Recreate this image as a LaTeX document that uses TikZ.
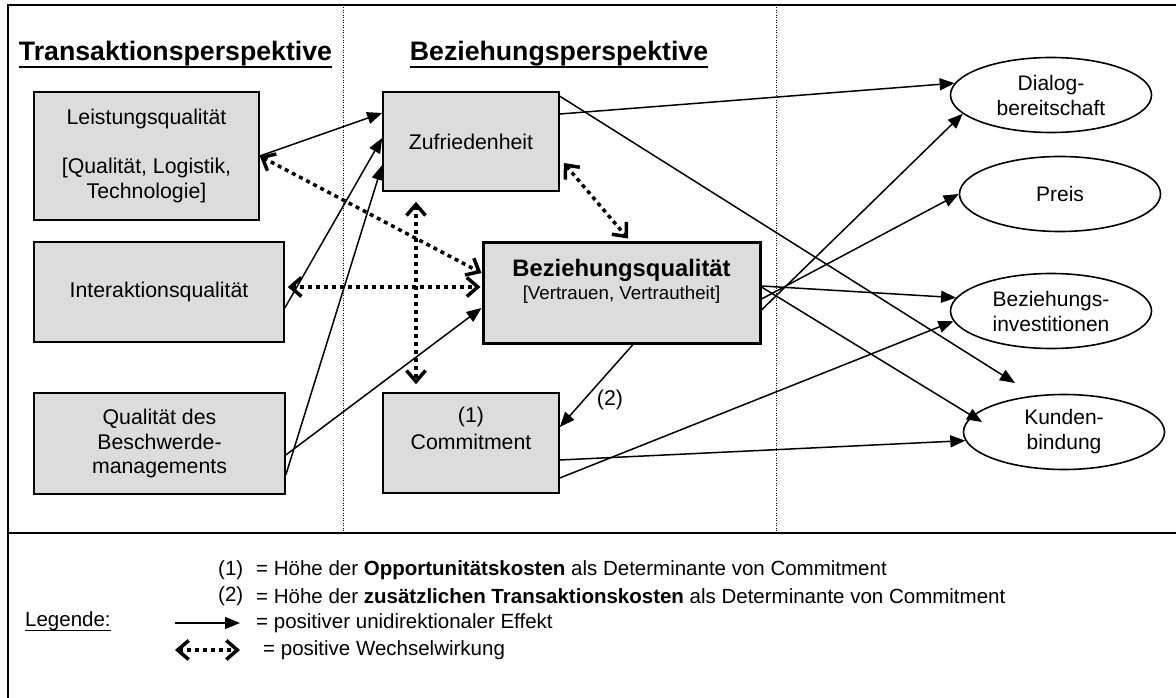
\documentclass[tikz,border=0pt]{standalone}
\usepackage{fontspec}
\setmainfont{Liberation Sans}
\usetikzlibrary{arrows.meta,shapes.geometric,calc}

\definecolor{boxgray}{RGB}{220,220,220}

\tikzset{
  box/.style={draw, line width=1.6pt, fill=boxgray, inner sep=0pt, align=center,
    font=\fontsize{21.3}{24.5}\selectfont},
  oval/.style={ellipse, draw, line width=1.6pt, inner sep=0pt, minimum width=201pt,
    minimum height=75pt, align=center, font=\fontsize{21}{25}\selectfont},
  effect/.style={line width=1.5pt, -{Triangle[length=15pt,width=12pt]}},
  mutual/.style={line width=3.5pt, dash pattern=on 4pt off 4pt,
    {Straight Barb[length=11pt,width=19pt]}-{Straight Barb[length=11pt,width=19pt]}},
  divider/.style={line width=1pt, dash pattern=on 1pt off 1.5pt},
  heading/.style={font=\fontsize{26.7}{30}\selectfont\bfseries, inner sep=0pt, anchor=base},
  txt/.style={inner sep=0pt, align=center, font=\fontsize{21.3}{24.5}\selectfont},
  legend/.style={inner sep=0pt, anchor=west, font=\fontsize{20.5}{24}\selectfont},
}

\begin{document}
\begin{tikzpicture}[x=1pt,y=-1pt]
\useasboundingbox (0,0) rectangle (1176,698);

% outer frame and legend separator
\draw[line width=2pt] (1180,5) -- (8,5) -- (8,702);
\draw[line width=2pt] (8,533) -- (1180,533);

% column dividers
\draw[divider] (343,5) -- (343,533);
\draw[divider] (776,5) -- (776,533);

% headings
\node[heading] (th) at (175.5,61) {Transaktionsperspektive};
\draw[line width=2pt] (th.south west) -- (th.south east);
\node[heading] (bh) at (559,61) {Beziehungsperspektive};
\draw[line width=2pt] (bh.south west) -- (bh.south east);

% transaction side
\node[box, minimum width=225pt, minimum height=128pt] (L) at (146.5,156)
  {Leistungsqualität\\[24.5pt]{[}Qualität, Logistik,\\Technologie{]}};
\node[box, minimum width=250pt, minimum height=100pt] (I) at (159,292) {Interaktionsqualität};
\node[box, minimum width=251pt, minimum height=101pt] (Q) at (159.5,443.5)
  {Qualität des\\Beschwerde-\\managements};

% relationship side
\node[box, minimum width=176pt, minimum height=99pt] (Z) at (471,141.5) {Zufriedenheit};
\node[box, line width=3pt, minimum width=277pt, minimum height=101pt] (B) at (621.5,292.5) {};
\node[txt, font=\fontsize{23.8}{26}\selectfont\bfseries] (Bt) at (621.5,270) {Beziehungsqualität};
\node[txt, font=\fontsize{18.7}{22}\selectfont] (Bs) at (621.5,295) {{[}Vertrauen, Vertrautheit{]}};
\node[box, minimum width=176pt, minimum height=100pt] (C) at (471,443) {};
\node[txt, font=\fontsize{21.3}{27}\selectfont] (Ct) at (471,428.5) {(1)\\Commitment};

% outcomes
\node[oval] (D) at (1051,95) {Dialog-\\bereitschaft};
\node[oval] (P) at (1060,194) {Preis};
\node[oval] (BI) at (1051,311) {Beziehungs-\\investitionen};
\node[oval] (K) at (1064,432) {Kunden-\\bindung};

% unidirectional effects
\draw[effect] (L.east) -- ([yshift=28.5pt]Z.west);
\draw[effect] ([yshift=-16pt]I.east) -- ([yshift=3.5pt]Z.west);
\draw[effect] ([yshift=-31.5pt]Q.east) -- ([yshift=-23.5pt]Z.west);
\draw[effect] ([yshift=-11.5pt]Q.east) -- ([yshift=-15.5pt]B.west);
\draw[effect] ([xshift=11.5pt]B.south) -- ([yshift=16pt]C.east);
\node[txt] (n2) at (610,400) {(2)};

\coordinate (kt) at (1015,383);
\draw[effect] ([yshift=27.5pt]Z.east) -- (D.173);
\draw[effect] ([yshift=-5pt]Z.north east) -- (kt);
\draw[effect] ([yshift=6.5pt]B.east) -- (BI.172);
\draw[effect] ([yshift=5.5pt]B.east) -- ([xshift=-82pt,yshift=10pt]K.center);
\draw[effect] ([yshift=-6.5pt]B.east) -- (P.west);
\draw[effect] ([yshift=-17.5pt]B.east) -- (D.192);
\draw[effect] ([yshift=-35pt]C.east) -- (BI.186);
\draw[effect] ([yshift=-17pt]C.east) -- (K.185);

% mutual effects
\draw[mutual] (L.east) -- ([yshift=19.5pt]B.west);
\draw[mutual] ([xshift=3pt,yshift=5pt]I.east) -- ([xshift=-1pt,yshift=5.5pt]B.west);
\draw[mutual] ([xshift=-55pt,yshift=-10pt]Z.south) -- ([xshift=-55pt,yshift=8pt]C.north);
\draw[mutual] ([xshift=4pt,yshift=-21.5pt]Z.east) -- ([xshift=6.5pt,yshift=2pt]B.north);

% legend
\node[legend] (lg) at (25,621) {Legende:};
\draw[line width=1pt] (lg.south west) -- (lg.south east);
\node[legend] (l1n) at (218,570) {(1)};
\node[legend] (l1t) at (256,570) {= Höhe der \textbf{Opportunitätskosten} als Determinante von Commitment};
\node[legend] (l2n) at (218,596) {(2)};
\node[legend] (l2t) at (256,596) {= Höhe der \textbf{zusätzlichen Transaktionskosten} als Determinante von Commitment};
\coordinate (la1) at (175,623);
\coordinate (la2) at (240,623);
\draw[effect] (la1) -- (la2);
\node[legend] (l3t) at (256,623) {= positiver unidirektionaler Effekt};
\coordinate (lb1) at (175,650);
\coordinate (lb2) at (240,650);
\draw[mutual] (lb1) -- (lb2);
\node[legend] (l4t) at (263,650) {= positive Wechselwirkung};
\end{tikzpicture}
\end{document}
